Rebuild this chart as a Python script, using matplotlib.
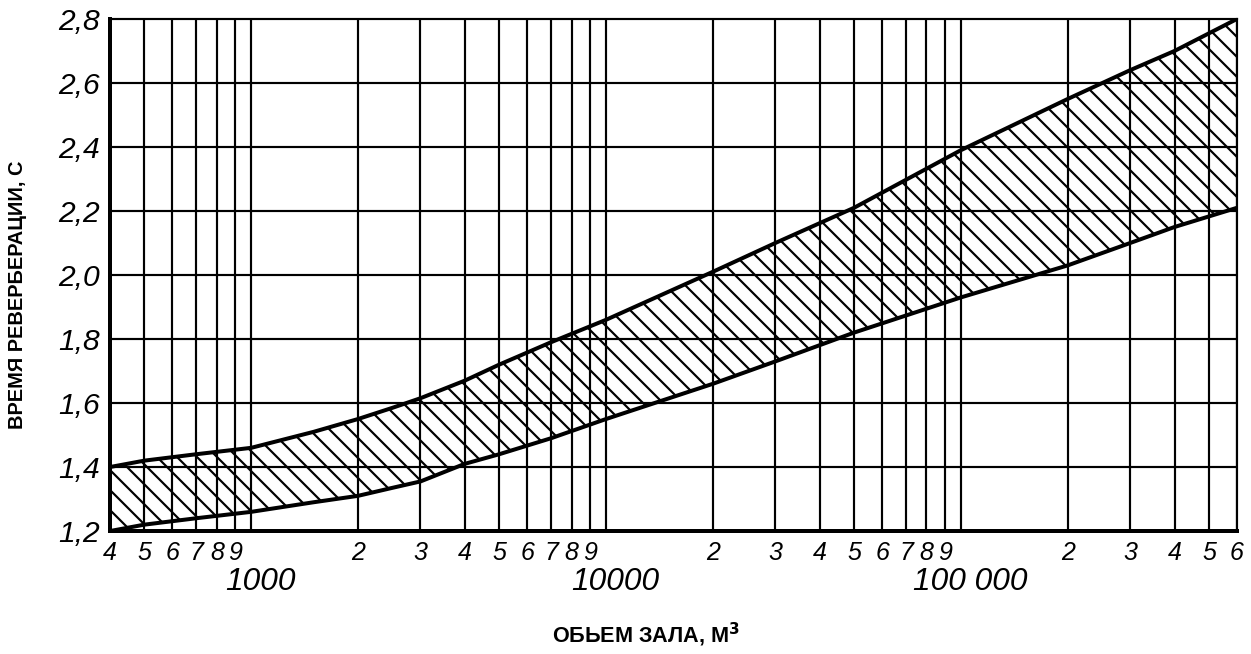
import matplotlib
matplotlib.use("Agg")
import matplotlib.pyplot as plt

# объем зала, м3 и границы оптимального времени реверберации, с
volume = [400, 500, 700, 1000, 1500, 2000, 2500, 3000, 4000, 5000, 7000, 10000,
          20000, 30000, 50000, 100000, 200000, 300000, 400000, 600000]
t_upper = [1.40, 1.42, 1.44, 1.46, 1.51, 1.55, 1.585, 1.615, 1.67, 1.72, 1.79, 1.86,
           2.01, 2.10, 2.21, 2.39, 2.55, 2.64, 2.70, 2.80]
t_lower = [1.20, 1.22, 1.24, 1.26, 1.29, 1.31, 1.335, 1.355, 1.41, 1.44, 1.49, 1.55,
           1.66, 1.73, 1.82, 1.93, 2.03, 2.10, 2.15, 2.21]

x_ticks = [400, 500, 600, 700, 800, 900,
           2000, 3000, 4000, 5000, 6000, 7000, 8000, 9000,
           20000, 30000, 40000, 50000, 60000, 70000, 80000, 90000,
           200000, 300000, 400000, 500000, 600000]
x_labels = ['4', '5', '6', '7', '8', '9',
            '2', '3', '4', '5', '6', '7', '8', '9',
            '2', '3', '4', '5', '6', '7', '8', '9',
            '2', '3', '4', '5', '6']
decades = [1000, 10000, 100000]
decade_labels = ['1000', '10000', '100 000']
y_ticks = [1.2, 1.4, 1.6, 1.8, 2.0, 2.2, 2.4, 2.6, 2.8]
y_labels = ['1,2', '1,4', '1,6', '1,8', '2,0', '2,2', '2,4', '2,6', '2,8']

digits = ['Liberation Sans', 'DejaVu Sans']
plt.rcParams['hatch.linewidth'] = 1.3

fig = plt.figure(figsize=(1251 / 120, 654 / 120), dpi=120)
ax = fig.add_axes([0.0879, 0.188, 0.9009, 0.783])
ax.set_xscale('log')
ax.set_xlim(400, 600000)
ax.set_ylim(1.2, 2.8)

# сетка
for xv in x_ticks + decades:
    ax.axvline(xv, color='black', linewidth=1.3, zorder=1)
for yv in y_ticks[1:-1]:
    ax.axhline(yv, color='black', linewidth=1.3, zorder=1)

# заштрихованная область
ax.fill_between(volume, t_lower, t_upper, facecolor='none', edgecolor='black',
                hatch='\\\\', linewidth=0, zorder=2)
ax.plot(volume, t_upper, color='black', linewidth=2.4, zorder=3)
ax.plot(volume, t_lower, color='black', linewidth=2.4, zorder=3)

for side in ['left', 'bottom']:
    ax.spines[side].set_linewidth(2.4)
for side in ['top', 'right']:
    ax.spines[side].set_linewidth(1.3)

ax.minorticks_off()
ax.set_xticks(x_ticks)
ax.set_xticklabels(x_labels, fontsize=15, style='italic', family=digits)
ax.set_yticks(y_ticks)
ax.set_yticklabels(y_labels, fontsize=18, style='italic', family=digits)
ax.tick_params(axis='x', length=0, pad=6)
ax.tick_params(axis='y', length=0, pad=6)

for xv, lab in zip(decades, decade_labels):
    ax.text(xv * 1.06, -0.07, lab, transform=ax.get_xaxis_transform(),
            ha='center', va='top', fontsize=19, style='italic', family=digits)

fig.text(0.014, 0.55, 'ВРЕМЯ РЕВЕРБЕРАЦИИ, С', rotation=90, ha='center', va='center',
         fontsize=12, fontweight='bold', family=['Liberation Sans', 'DejaVu Sans'])
fig.text(0.516, 0.029, 'ОБЬЕМ ЗАЛА, М$^\\mathbf{3}$', ha='center', va='center',
         fontsize=13, fontweight='bold', family=['Liberation Sans', 'DejaVu Sans'])

fig.savefig('out.png', dpi=120)
